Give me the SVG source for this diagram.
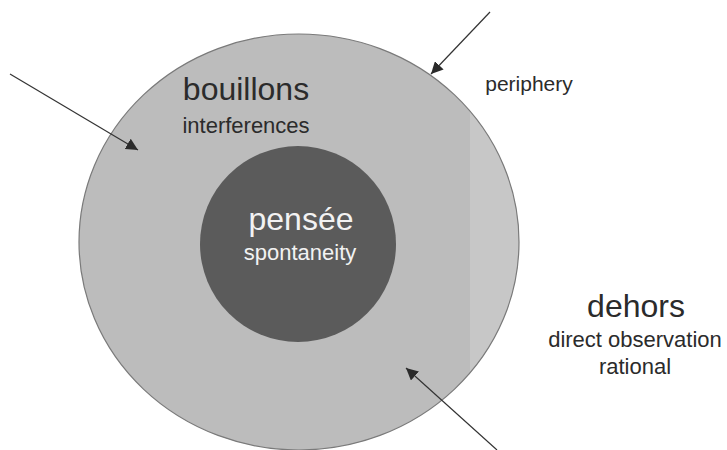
<svg xmlns="http://www.w3.org/2000/svg" width="727" height="450" viewBox="0 0 727 450">
<style>
.t{font-family:"Liberation Sans",Arial,Helvetica,sans-serif;text-anchor:middle;fill:#2b2b2b}
.big{font-size:32px}
.small{font-size:22px}
.light{fill:#f2f2f2}
.conn{stroke:#333;stroke-width:1.2;fill:none;marker-end:url(#ah)}
</style>
<defs>
<marker id="ah" viewBox="0 0 10 10" refX="10" refY="5" markerWidth="12" markerHeight="12" markerUnits="userSpaceOnUse" orient="auto">
<path d="M0,0 L10,5 L0,10 Z" fill="#2b2b2b"/>
</marker>
<clipPath id="oc"><ellipse cx="299" cy="242" rx="220" ry="208"/></clipPath>
</defs>
<rect width="727" height="450" fill="#ffffff"/>
<g id="bouillons">
<ellipse cx="299" cy="242" rx="220" ry="208" fill="#bcbcbc"/>
<rect x="470" y="0" width="60" height="450" fill="#c7c7c7" clip-path="url(#oc)"/>
<ellipse cx="299" cy="242" rx="220" ry="208" fill="none" stroke="#7a7a7a" stroke-width="1.2"/>
<text class="t big" x="246" y="100">bouillons</text>
<text class="t small" x="246" y="133">interferences</text>
</g>
<g id="pensee">
<circle cx="298" cy="244" r="98" fill="#5b5b5b"/>
<text class="t big light" x="301" y="230">pensée</text>
<text class="t small light" x="300" y="260">spontaneity</text>
</g>
<g id="periphery">
<text class="t" style="font-size:21px" x="529" y="91">periphery</text>
</g>
<g id="dehors">
<text class="t big" x="636" y="317">dehors</text>
<text class="t small" x="635" y="347">direct observation</text>
<text class="t small" x="635" y="374">rational</text>
</g>
<g id="connectors">
<line class="conn" x1="10" y1="74" x2="138" y2="150"/>
<line class="conn" x1="490" y1="12" x2="431" y2="74"/>
<line class="conn" x1="497" y1="450" x2="406" y2="368"/>
</g>
</svg>
